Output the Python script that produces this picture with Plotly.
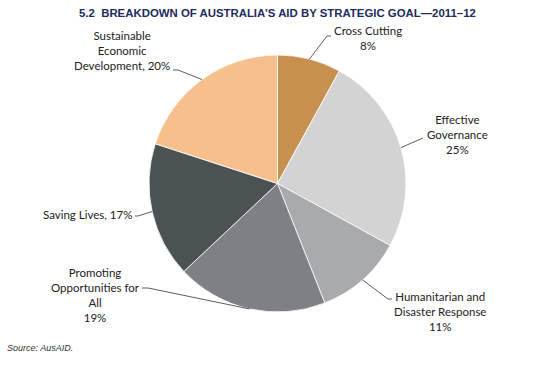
import math
import plotly.graph_objects as go

# ---- data ----
categories = ["Cross Cutting", "Effective Governance", "Humanitarian and Disaster Response",
              "Promoting Opportunities for All", "Saving Lives", "Sustainable Economic Development"]
values = [8, 25, 11, 19, 17, 20]
label_texts = ["Cross Cutting<br>8%", "Effective<br>Governance<br>25%",
               "Humanitarian and<br>Disaster Response<br>11%",
               "Promoting<br>Opportunities for<br>All<br>19%",
               "Saving Lives, 17%", "Sustainable<br>Economic<br>Development, 20%"]
colors = ["#C8904F", "#D3D3D3", "#A9AAAE", "#7F8086", "#4B5254", "#F6BF8C"]

W, H = 545, 365
CX, CY, R = 277.5, 183.5, 128.5

# label layout (pixel positions): (text x, text y, xanchor, elbow points)
label_layout = [
    (368, 38, "center", [(327, 36), (331, 36)]),
    (457, 135, "center", [(423, 138)]),
    (440, 311, "center", [(388, 299), (392, 299)]),
    (95, 295, "center", [(148, 288), (142, 288)]),
    (134, 214, "right", [(138, 216), (135, 216)]),
    (122, 50, "center", [(178, 70), (173, 70)]),
]

def px(x):
    return x / W

def py(y):
    return 1 - y / H

fig = go.Figure(go.Pie(
    labels=categories, values=values, sort=False, direction="clockwise", rotation=0,
    marker=dict(colors=colors, line=dict(color="white", width=0.8)),
    textinfo="none", hoverinfo="label+percent", showlegend=False,
    domain=dict(x=[px(CX - R), px(CX + R)], y=[py(CY + R), py(CY - R)]),
))

total = sum(values)
cum = 0
annotations = []
shapes = []
for v, txt, (tx, ty, xa, elbows) in zip(values, label_texts, label_layout):
    mid = (cum + v / 2) / total * 2 * math.pi
    cum += v
    ex = CX + R * math.sin(mid)
    ey = CY - R * math.cos(mid)
    pts = [(ex, ey)] + elbows
    path = "M " + " L ".join(f"{px(x):.5f},{py(y):.5f}" for x, y in pts)
    shapes.append(dict(type="path", path=path, xref="paper", yref="paper",
                       line=dict(color="#333333", width=0.8)))
    annotations.append(dict(text=txt, x=px(tx), y=py(ty), xref="paper", yref="paper",
                            xanchor=xa, yanchor="middle", showarrow=False, align="center",
                            font=dict(family="Lato, sans-serif", size=11.5, color="#222222")))

annotations.append(dict(text="<b>5.2  BREAKDOWN OF AUSTRALIA’S AID BY STRATEGIC GOAL—2011–12</b>",
                        x=px(77), y=py(13), xref="paper", yref="paper", xanchor="left",
                        yanchor="middle", showarrow=False,
                        font=dict(family="Liberation Sans Narrow, Arial Narrow, Liberation Sans, sans-serif",
                                  size=11.4, color="#1D2B5E")))
annotations.append(dict(text="<i>Source: AusAID.</i>", x=px(5), y=py(348), xref="paper", yref="paper",
                        xanchor="left", yanchor="middle", showarrow=False,
                        font=dict(family="Liberation Sans, Arial, sans-serif", size=9, color="#333333")))

fig.update_layout(width=W, height=H, margin=dict(l=0, r=0, t=0, b=0),
                  paper_bgcolor="white", plot_bgcolor="white",
                  annotations=annotations, shapes=shapes)
fig.write_html("out.html", config={"displayModeBar": False},
               post_script="document.body.style.margin='0';")
